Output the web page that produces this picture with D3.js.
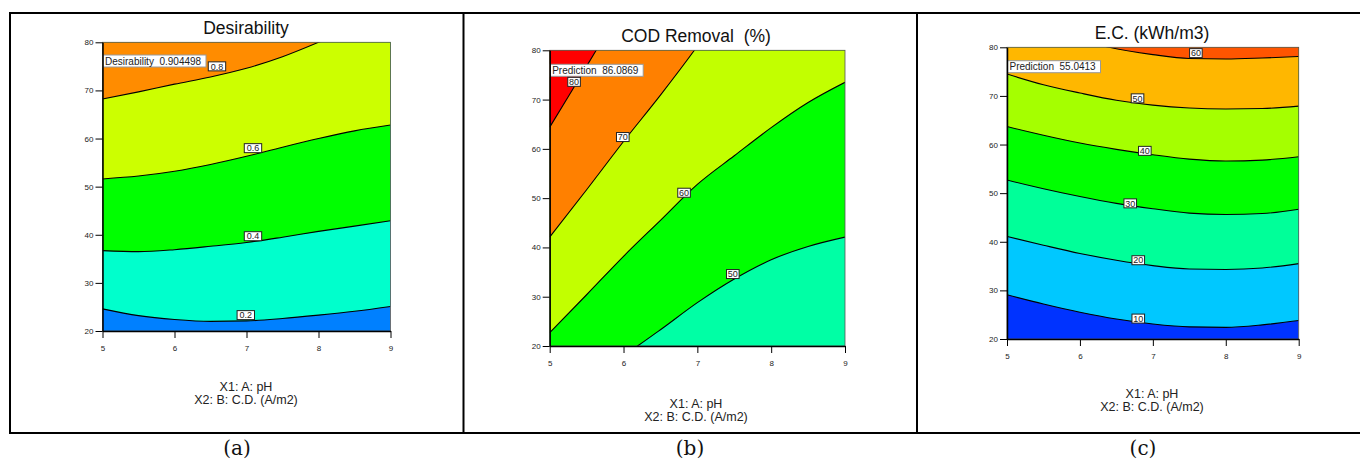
<!DOCTYPE html>
<html><head><meta charset="utf-8">
<script src="https://cdn.jsdelivr.net/npm/d3@7"></script>
<style>
html,body{margin:0;padding:0;background:#fff;}
svg{display:block;font-family:"Liberation Sans",Arial,sans-serif;}
</style></head>
<body>
<svg id="chart" width="1360" height="459"></svg>
<script>
// ---------- DATA ----------
const xTicks = [5, 6, 7, 8, 9];
const yTicks = [20, 30, 40, 50, 60, 70, 80];
const xDomain = [5, 9];
const yDomain = [20, 80];
const panelTitles = ["Desirability", "COD Removal  (%)", "E.C. (kWh/m3)"];
const panelCaptions = ["(a)", "(b)", "(c)"];
const footerLines = ["X1: A: pH", "X2: B: C.D. (A/m2)"];

// (a) Desirability
const desirLevels = ["0.2", "0.4", "0.6", "0.8"];
const desirColors = ["#0080ff", "#00ffcc", "#00ff00", "#ccff00", "#ff8c00"];
const desirLine02 = [[5,24.6],[5.5,23.2],[6,22.4],[6.5,22.0],[7,22.1],[7.5,22.6],[8,23.3],[8.5,24.1],[9,25.1]];
const desirLine04 = [[5,36.7],[5.5,36.5],[6,36.9],[6.5,37.6],[7,38.4],[7.5,39.5],[8,40.7],[8.5,41.8],[9,42.9]];
const desirLine06 = [[5,51.6],[5.5,52.2],[6,53.2],[6.5,54.6],[7,56.3],[7.5,58.2],[8,60.0],[8.5,61.6],[9,62.8]];
const desirLine08 = [[5,68.2],[5.5,69.7],[6,71.3],[6.5,72.8],[7,74.6],[7.5,77.0],[8,80.0],[8.5,83.3],[9,86.8]];
const desirLabelPos = [[6.99,23.3],[7.09,39.7],[7.09,58.0],[6.59,75.0]];
const desirReadout = "Desirability  0.904498";

// (b) COD Removal (%)
const codLevels = ["50", "60", "70", "80"];
const codColors = ["#00ffa5", "#00ff00", "#c2ff00", "#ff8000", "#ff0000"];
const codLine50 = [[6.0,18.1],[6.19,20],[6.5,23.3],[7,28.8],[7.5,33.6],[8,37.5],[8.5,40.2],[9,42.1]];
const codLine60 = [[5,22.7],[5.5,30.4],[6,38.2],[6.5,45.5],[7,52.8],[7.5,58.6],[8,64.3],[8.5,69.4],[9,73.5]];
const codLine70 = [[5,42.1],[5.5,51.7],[6,61.5],[6.5,70.9],[6.96,80],[7.2,85]];
const codLine80 = [[5,64.4],[5.3,71.8],[5.63,80],[5.8,84.2]];
const codLabelPos = [[7.48,34.6],[6.82,51.1],[5.99,62.4],[5.33,73.6]];
const codReadout = "Prediction  86.0869";

// (c) E.C. (kWh/m3)
const ecLevels = ["10", "20", "30", "40", "50", "60"];
const ecColors = ["#0033ff", "#00c8ff", "#00ff99", "#00ff00", "#a5ff00", "#ffb700", "#ff5500"];
const ecLine10 = [[5,29.1],[5.5,27.2],[6,25.5],[6.5,24.1],[7,23.1],[7.5,22.5],[8,22.4],[8.5,22.9],[9,23.8]];
const ecLine20 = [[5,41.1],[5.5,39.3],[6,37.6],[6.5,36.2],[7,35.1],[7.5,34.4],[8,34.3],[8.5,34.6],[9,35.5]];
const ecLine30 = [[5,52.7],[5.5,50.9],[6,49.3],[6.5,47.9],[7,46.8],[7.5,45.9],[8,45.6],[8.5,45.8],[9,46.7]];
const ecLine40 = [[5,63.7],[5.5,61.9],[6,60.3],[6.5,59.0],[7,57.9],[7.5,57.0],[8,56.6],[8.5,56.8],[9,57.5]];
const ecLine50 = [[5,74.5],[5.5,72.3],[6,70.6],[6.5,69.1],[7,68.1],[7.5,67.5],[8,67.3],[8.5,67.4],[9,67.9]];
const ecLine60 = [[5,84.5],[5.5,83.0],[6,81.6],[6.4,80.0],[7,78.5],[7.5,77.7],[8,77.6],[8.5,77.8],[9,78.1]];
const ecLabelPos = [[6.8,24.2],[6.8,36.2],[6.69,47.9],[6.89,58.7],[6.79,69.5],[7.59,78.8]];
const ecReadout = "Prediction  55.0413";

// ---------- LAYOUT ----------
const panels = [
  {title: panelTitles[0], caption: panelCaptions[0], levels: desirLevels, colors: desirColors,
   lines: [desirLine02, desirLine04, desirLine06, desirLine08], labels: desirLabelPos, readout: desirReadout,
   plot: {l: 102.5, r: 390.5, t: 42.3, b: 331}, titleY: 34, footY: 390.5, cx: 246, capX: 237, readW: 103, readY: 55},
  {title: panelTitles[1], caption: panelCaptions[1], levels: codLevels, colors: codColors,
   lines: [codLine50, codLine60, codLine70, codLine80], labels: codLabelPos, readout: codReadout,
   plot: {l: 549.7, r: 845, t: 50.3, b: 346}, titleY: 41.5, footY: 407.5, cx: 696, capX: 690, readW: 93, readY: 64.3},
  {title: panelTitles[2], caption: panelCaptions[2], levels: ecLevels, colors: ecColors,
   lines: [ecLine10, ecLine20, ecLine30, ecLine40, ecLine50, ecLine60], labels: ecLabelPos, readout: ecReadout,
   plot: {l: 1007, r: 1298.7, t: 47.3, b: 339}, titleY: 38.5, footY: 397.5, cx: 1152, capX: 1143, readW: 93, readY: 60.7}
];

const svg = d3.select("#chart");
const defs = svg.append("defs");

// table frame
const frame = svg.append("g").attr("stroke", "#000").attr("stroke-width", 2);
frame.append("line").attr("x1", 9).attr("x2", 1360).attr("y1", 13).attr("y2", 13);
frame.append("line").attr("x1", 9).attr("x2", 1360).attr("y1", 433).attr("y2", 433);
[10, 463.5, 917].forEach(x => frame.append("line").attr("x1", x).attr("x2", x).attr("y1", 12).attr("y2", 434));

panels.forEach((p, pi) => {
  const x = d3.scaleLinear().domain(xDomain).range([p.plot.l, p.plot.r]);
  const y = d3.scaleLinear().domain(yDomain).range([p.plot.b, p.plot.t]);
  const g = svg.append("g");
  const clipId = "clip" + pi;
  defs.append("clipPath").attr("id", clipId).append("rect")
    .attr("x", p.plot.l).attr("y", p.plot.t).attr("width", p.plot.r - p.plot.l).attr("height", p.plot.b - p.plot.t);
  const cg = g.append("g").attr("clip-path", `url(#${clipId})`);
  cg.append("rect").attr("x", p.plot.l).attr("y", p.plot.t)
    .attr("width", p.plot.r - p.plot.l).attr("height", p.plot.b - p.plot.t).attr("fill", p.colors[0]);
  const lineGen = d3.line().x(d => x(d[0])).y(d => y(d[1])).curve(d3.curveMonotoneX);
  // filled regions above each contour line
  p.lines.forEach((ln, i) => {
    const first = ln[0], last = ln[ln.length - 1];
    const extra = ` L${x(11)},${y(last[1])} L${x(11)},${y(200)} L${x(3)},${y(200)} L${x(3)},${y(first[1])} Z`;
    cg.append("path").attr("d", lineGen(ln) + extra).attr("fill", p.colors[i + 1]).attr("stroke", "none");
  });
  p.lines.forEach(ln => {
    cg.append("path").attr("d", lineGen(ln)).attr("fill", "none").attr("stroke", "#000").attr("stroke-width", 1.1);
  });
  // frame of plot
  g.append("rect").attr("x", p.plot.l).attr("y", p.plot.t).attr("width", p.plot.r - p.plot.l)
    .attr("height", p.plot.b - p.plot.t).attr("fill", "none").attr("stroke", "#555").attr("stroke-width", 0.8);
  // readout box
  const rg = g.append("g").attr("transform", `translate(${p.plot.l},${p.readY})`);
  rg.append("rect").attr("x", 0.5).attr("y", 0).attr("width", p.readW).attr("height", 12)
    .attr("fill", "#fff").attr("stroke", "#999").attr("stroke-width", 1);
  rg.append("text").attr("x", 2.5).attr("y", 9.5).attr("font-size", 10).attr("fill", "#222")
    .attr("xml:space", "preserve").style("white-space", "pre").text(p.readout);
  // contour labels
  p.labels.forEach((pos, i) => {
    const t = p.levels[i];
    const w = t.length * 4.8 + 3, h = 9;
    const lg = g.append("g").attr("transform", `translate(${x(pos[0])},${y(pos[1])})`);
    lg.append("rect").attr("x", -w / 2).attr("y", -h / 2).attr("width", w).attr("height", h)
      .attr("fill", "#fff").attr("stroke", "#222").attr("stroke-width", 1);
    lg.append("text").attr("text-anchor", "middle").attr("y", 3.2).attr("font-size", 9).attr("fill", "#222").text(t);
  });
  // axes
  const ax = g.append("g").attr("transform", `translate(0,${p.plot.b})`)
    .call(d3.axisBottom(x).tickValues(xTicks).tickSize(7).tickSizeOuter(0).tickFormat(d3.format("d")));
  const ay = g.append("g").attr("transform", `translate(${p.plot.l},0)`)
    .call(d3.axisLeft(y).tickValues(yTicks).tickSize(7).tickSizeOuter(0).tickFormat(d3.format("d")));
  [ax, ay].forEach(a => {
    a.select(".domain").attr("stroke", "#000").attr("stroke-width", 1.5);
    a.selectAll(".tick line").attr("stroke", "#000").attr("stroke-width", 1);
    a.selectAll(".tick text").attr("font-size", 8).attr("fill", "#222")
      .attr("font-family", "'Liberation Sans',Arial,sans-serif");
  });
  ax.selectAll(".tick text").attr("dy", "1.2em");
  ay.selectAll(".tick text").attr("x", -9);
  // title and footer
  g.append("text").attr("x", p.cx).attr("y", p.titleY).attr("text-anchor", "middle")
    .attr("font-size", 17.5).attr("fill", "#111").style("white-space", "pre").text(p.title);
  footerLines.forEach((f, k) => {
    g.append("text").attr("x", p.cx).attr("y", p.footY + k * 13).attr("text-anchor", "middle")
      .attr("font-size", 12.5).attr("fill", "#222").text(f);
  });
  svg.append("text").attr("x", p.capX).attr("y", 455).attr("text-anchor", "middle")
    .attr("font-size", 20).attr("font-family", "'DejaVu Serif','Liberation Serif',serif").attr("fill", "#111").text(p.caption);
});
</script>
</body></html>
